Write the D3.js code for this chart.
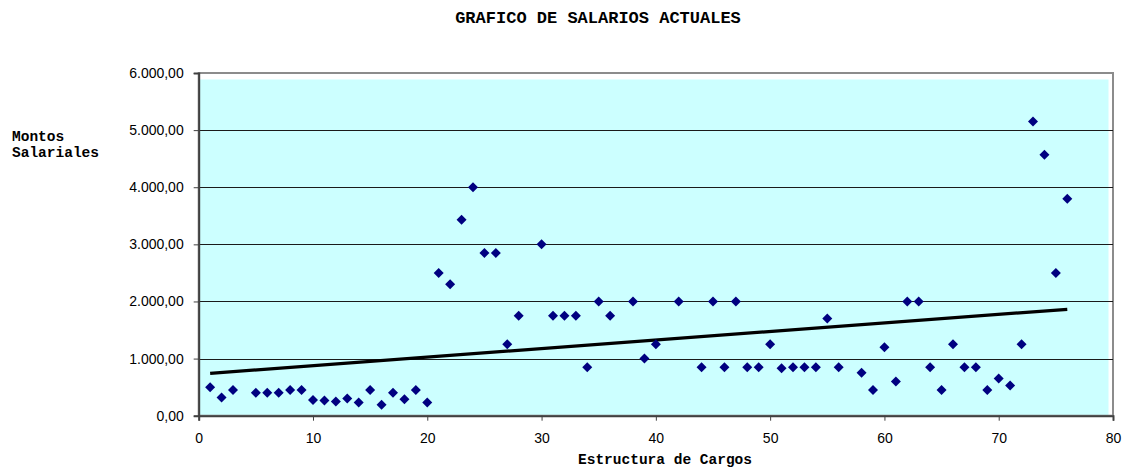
<!DOCTYPE html>
<html>
<head>
<meta charset="utf-8">
<script src="https://cdn.jsdelivr.net/npm/d3@7"></script>
<style>
  body { margin: 0; background: #fff; }
  svg { display: block; }
</style>
</head>
<body>
<div class="graph"></div>
<script>
// Estructura de cargos (x) y montos salariales (y)
var cargos = [1, 2, 3, 5, 6, 7, 8, 9, 10, 11, 12, 13, 14, 15, 16, 17, 18, 19, 20,
  21, 22, 23, 24, 25, 26, 27, 28, 30, 31, 32, 33, 34, 35, 36, 38, 39, 40, 42,
  44, 45, 46, 47, 48, 49, 50, 51, 52, 53, 54, 55, 56, 58, 59, 60, 61, 62, 63,
  64, 65, 66, 67, 68, 69, 70, 71, 72, 73, 74, 75, 76];

var salarios = [500, 320, 450, 400, 400, 400, 450, 450, 275, 265, 250, 300, 230, 450, 190, 400, 290, 450, 230,
  2500, 2300, 3430, 4000, 2850, 2850, 1250, 1750, 3000, 1750, 1750, 1750, 850, 2000, 1750, 2000, 1000, 1250, 2000,
  850, 2000, 850, 2000, 850, 850, 1250, 830, 850, 850, 850, 1700, 850, 750, 450, 1200, 600, 2000, 2000,
  850, 450, 1250, 850, 850, 450, 650, 530, 1250, 5150, 4570, 2500, 3800];

// linea de tendencia (extremos)
var tendencia = [{x: 1, y: 742}, {x: 76, y: 1863}];

var xTicks = [0, 10, 20, 30, 40, 50, 60, 70, 80];
var yTicks = [0, 1000, 2000, 3000, 4000, 5000, 6000];

var data = cargos.map(function(c, i) { return {x: c, y: salarios[i]}; });

var margin = {top: 73, right: 12, bottom: 53.3, left: 198.7},
    fullW = 1125, fullH = 469,
    width = fullW - margin.left - margin.right,
    height = fullH - margin.top - margin.bottom;

var esLocale = d3.formatLocale({decimal: ",", thousands: ".", grouping: [3], currency: ["", ""]});
var fmt = esLocale.format(",.2f");

var x = d3.scaleLinear().domain([0, 80]).range([0, width]);
var y = d3.scaleLinear().domain([0, 6000]).range([height, 0]);

var svg = d3.select("div.graph").append("svg")
    .attr("width", fullW)
    .attr("height", fullH);

// title
svg.append("text")
    .attr("x", 598)
    .attr("y", 23)
    .attr("text-anchor", "middle")
    .style("font-family", "'Liberation Mono', 'Courier New', monospace")
    .style("font-weight", "bold")
    .style("font-size", "17px")
    .text("GRAFICO DE SALARIOS ACTUALES");

var g = svg.append("g")
    .attr("transform", "translate(" + margin.left + "," + margin.top + ")");

// plot area: cyan fill inset from the frame
g.append("rect")
    .attr("x", 0.5)
    .attr("y", 6.5)
    .attr("width", width - 5)
    .attr("height", height - 6.5)
    .attr("fill", "#ccffff");

// frame
g.append("rect")
    .attr("x", 0)
    .attr("y", 0)
    .attr("width", width)
    .attr("height", height)
    .attr("fill", "none")
    .attr("stroke", "#8c8c8c")
    .attr("stroke-width", 2);

// gridlines
g.selectAll("line.grid")
    .data(yTicks.filter(function(t) { return t > 0 && t < 6000; }))
    .enter().append("line")
    .attr("class", "grid")
    .attr("x1", 0)
    .attr("x2", width)
    .attr("y1", function(d) { return Math.round(y(d)) + 0.5; })
    .attr("y2", function(d) { return Math.round(y(d)) + 0.5; })
    .attr("stroke", "#1a1a1a")
    .attr("stroke-width", 1);

// y axis
var yAxis = g.append("g")
    .attr("class", "y-axis")
    .call(d3.axisLeft(y).tickValues(yTicks).tickFormat(fmt).tickSize(5).tickPadding(10));

// x axis
var xAxis = g.append("g")
    .attr("class", "x-axis")
    .attr("transform", "translate(0," + height + ")")
    .call(d3.axisBottom(x).tickValues(xTicks).tickFormat(d3.format("d")).tickSize(5).tickPadding(12));

[yAxis, xAxis].forEach(function(ax) {
  ax.select(".domain").attr("stroke", "#404040").attr("stroke-width", 2);
  ax.selectAll(".tick line").attr("stroke", "#404040");
  ax.selectAll(".tick text")
    .attr("fill", "#000")
    .style("font-family", "'Liberation Sans', Arial, sans-serif")
    .style("font-size", "14px");
});

// trend line
var line = d3.line()
    .x(function(d) { return x(d.x); })
    .y(function(d) { return y(d.y); });

g.append("path")
    .datum(tendencia)
    .attr("d", line)
    .attr("fill", "none")
    .attr("stroke", "#000")
    .attr("stroke-width", 3.2);

// diamond markers
g.selectAll("path.dot")
    .data(data)
    .enter().append("path")
    .attr("class", "dot")
    .attr("d", "M0,-5L5,0L0,5L-5,0Z")
    .attr("transform", function(d) { return "translate(" + x(d.x) + "," + y(d.y) + ")"; })
    .attr("fill", "#000080");

// axis labels
var lblFont = "'Liberation Mono', 'Courier New', monospace";

svg.append("text")
    .attr("x", 12)
    .attr("y", 141)
    .style("font-family", lblFont)
    .style("font-weight", "bold")
    .style("font-size", "14.5px")
    .text("Montos");

svg.append("text")
    .attr("x", 12)
    .attr("y", 157)
    .style("font-family", lblFont)
    .style("font-weight", "bold")
    .style("font-size", "14.5px")
    .text("Salariales");

svg.append("text")
    .attr("x", 665)
    .attr("y", 464)
    .attr("text-anchor", "middle")
    .style("font-family", lblFont)
    .style("font-weight", "bold")
    .style("font-size", "14.5px")
    .text("Estructura de Cargos");
</script>
</body>
</html>
